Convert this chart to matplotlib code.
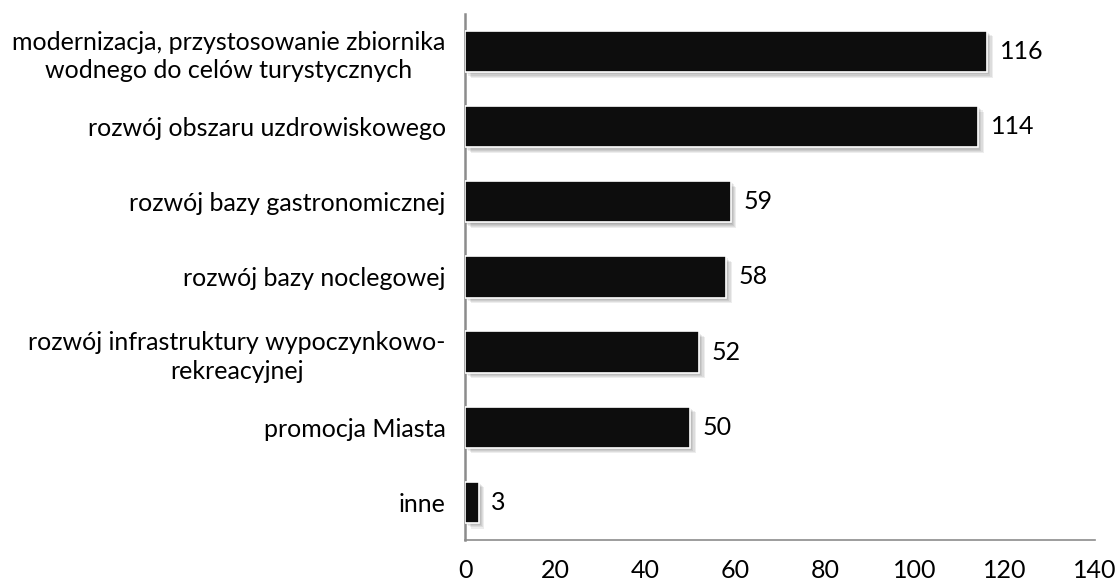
import matplotlib
matplotlib.use("Agg")
import matplotlib.pyplot as plt
import matplotlib.patheffects as pe

categories = [
    "modernizacja, przystosowanie zbiornika\nwodnego do celów turystycznych",
    "rozwój obszaru uzdrowiskowego",
    "rozwój bazy gastronomicznej",
    "rozwój bazy noclegowej",
    "rozwój infrastruktury wypoczynkowo-\nrekreacyjnej",
    "promocja Miasta",
    "inne",
]
values = [116, 114, 59, 58, 52, 50, 3]
x_ticks = [0, 20, 40, 60, 80, 100, 120, 140]

plt.rcParams["font.family"] = ["Lato", "DejaVu Sans"]
FS = 18

fig = plt.figure(figsize=(11.18, 5.83), dpi=100)
ax = fig.add_axes([0.416, 0.074, 0.5635, 0.902])

ypos = list(range(len(categories)))
bars = ax.barh(ypos, values, height=0.55, color="#0d0d0d", edgecolor="white",
               linewidth=1.2, zorder=3)

# soft drop shadow built from several faint offset layers
shadow = [pe.SimplePatchShadow(offset=(o, -o), shadow_rgbFace="#000000", alpha=0.07)
          for o in (0.8, 1.6, 2.4, 3.2, 4.0)]
for b in bars:
    b.set_path_effects(shadow + [pe.Normal()])

for y, v in zip(ypos, values):
    ax.annotate(str(v), xy=(v, y), xytext=(9, 0), textcoords="offset points",
                ha="left", va="center", fontsize=FS, color="#000000")

ax.set_xlim(0, 140)
ax.set_ylim(len(categories) - 0.5, -0.5)
ax.set_xticks(x_ticks)
ax.set_xticklabels([str(t) for t in x_ticks], fontsize=FS)
ax.set_yticks(ypos)
ax.set_yticklabels(categories, fontsize=FS, multialignment="center", linespacing=1.3)
ax.tick_params(axis="x", length=0, pad=14)
ax.tick_params(axis="y", length=0, pad=14)

for s in ["top", "right"]:
    ax.spines[s].set_visible(False)
ax.spines["left"].set_color("#8c8c8c")
ax.spines["left"].set_linewidth(1.8)
ax.spines["bottom"].set_color("#8c8c8c")
ax.spines["bottom"].set_linewidth(1.2)

fig.savefig("out.png", dpi=100)
